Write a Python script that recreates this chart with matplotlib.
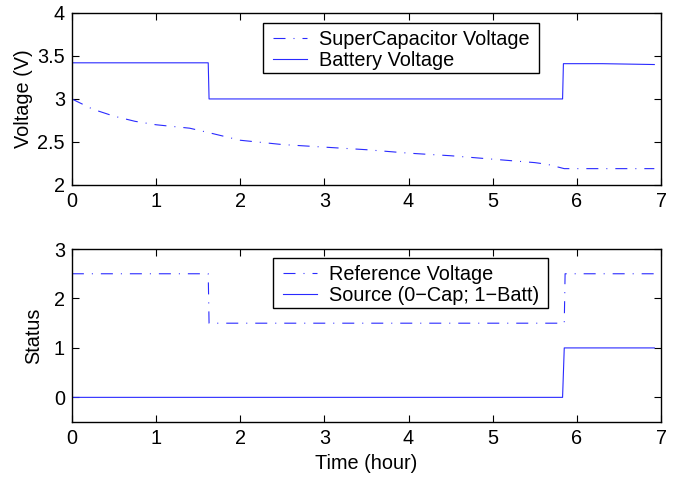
import matplotlib
matplotlib.use("Agg")
import matplotlib.pyplot as plt
from matplotlib.patches import Rectangle

plt.rcParams['font.family'] = ['Liberation Sans', 'DejaVu Sans']
plt.rcParams['font.size'] = 14.3

# Top panel data
t_batt = [0.0, 1.0, 1.62, 1.63, 3.0, 5.83, 5.84, 6.3, 6.92]
v_batt = [3.42, 3.42, 3.42, 3.0, 3.0, 3.0, 3.41, 3.41, 3.40]

t_cap = [0.0, 0.25, 0.5, 0.75, 1.0, 1.4, 1.62, 2.0, 2.5, 3.0, 3.5, 4.0, 4.5, 5.0, 5.5, 5.65, 5.85, 6.3, 6.92]
v_cap = [3.0, 2.88, 2.8, 2.74, 2.7, 2.66, 2.61, 2.52, 2.47, 2.44, 2.41, 2.37, 2.34, 2.30, 2.26, 2.24, 2.19, 2.19, 2.19]

# Bottom panel data
t_ref = [0.0, 1.62, 1.63, 5.85, 5.86, 6.92]
v_ref = [2.5, 2.5, 1.5, 1.5, 2.5, 2.5]

t_src = [0.0, 5.83, 5.85, 6.92]
v_src = [0, 0, 1, 1]

xticks = [0, 1, 2, 3, 4, 5, 6, 7]

fig = plt.figure(figsize=(6.78, 4.78), dpi=100)
ax1 = fig.add_axes([0.106, 0.613, 0.869, 0.360])
ax2 = fig.add_axes([0.106, 0.117, 0.869, 0.362])

dashdot = (0, (10.8, 7.2, 0.9, 7.2))
col = '#2a2aff'
lw = 0.8

ax1.plot(t_cap, v_cap, color=col, lw=lw, linestyle=dashdot, label='SuperCapacitor Voltage')
ax1.plot(t_batt, v_batt, color=col, lw=lw, linestyle='-', label='Battery Voltage')
ax1.set_xlim(0, 7)
ax1.set_ylim(2, 4)
ax1.set_yticks([2, 2.5, 3, 3.5, 4])
ax1.set_yticklabels(['2', '2.5', '3', '3.5', '4'])
ax1.set_xticks(xticks)
ax1.set_ylabel('Voltage (V)', labelpad=3)

ax2.plot(t_ref, v_ref, color=col, lw=lw, linestyle=dashdot, label='Reference Voltage')
ax2.plot(t_src, v_src, color=col, lw=lw, linestyle='-', label='Source (0\u2212Cap; 1\u2212Batt)')
ax2.set_xlim(0, 7)
ax2.set_ylim(-0.5, 3)
ax2.set_yticks([0, 1, 2, 3])
ax2.set_xticks(xticks)
ax2.set_ylabel('Status', labelpad=8)
ax2.set_xlabel('Time (hour)', labelpad=4)

for ax in (ax1, ax2):
    ax.tick_params(direction='in', top=True, right=True, length=5, width=0.8, pad=5)
    for s in ax.spines.values():
        s.set_linewidth(1.0)

leg_kw = dict(frameon=False, handlelength=1.7, borderpad=0.35, labelspacing=0.12,
              handletextpad=0.6, borderaxespad=0)


def boxed_legend(ax, box_px, ax_px):
    # box_px: (left, top, right, bottom) in figure pixels; ax_px: (left, top, width, height)
    bl, bt, br, bb = box_px
    al, at, aw, ah = ax_px
    x0 = (bl - al) / aw
    x1 = (br - al) / aw
    y_top = 1 - (bt - at) / ah
    y_bot = 1 - (bb - at) / ah
    rect = Rectangle((x0, y_bot), x1 - x0, y_top - y_bot, transform=ax.transAxes,
                     facecolor='white', edgecolor='black', linewidth=1.0,
                     clip_on=False, zorder=4.5)
    ax.add_patch(rect)
    leg = ax.legend(loc='upper left', bbox_to_anchor=(x0 + 3 / aw, y_top), **leg_kw)
    leg.set_zorder(5)
    return leg


boxed_legend(ax1, (263, 23, 539, 73), (72, 13, 589, 172))
boxed_legend(ax2, (273, 258, 548, 308), (72, 249, 589, 173))

fig.savefig('out.png', dpi=100)
